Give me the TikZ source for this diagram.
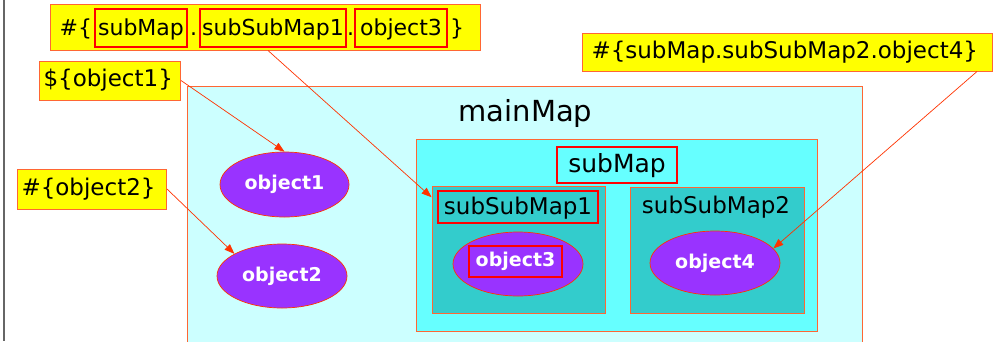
\documentclass[tikz,border=0pt]{standalone}
\usepackage{fontspec}
\setmainfont{DejaVu Sans}
\usetikzlibrary{arrows.meta,calc,shapes.geometric}
\definecolor{lblyellow}{HTML}{FFFF00}
\definecolor{lblborder}{HTML}{FF6633}
\definecolor{mainfill}{HTML}{CCFFFF}
\definecolor{subfill}{HTML}{66FFFF}
\definecolor{ssfill}{HTML}{33CCCC}
\definecolor{objfill}{HTML}{9933FF}
\definecolor{arrowc}{HTML}{FF3300}
\definecolor{hilite}{HTML}{FF0000}
\definecolor{framegray}{HTML}{666666}
\tikzset{
  lblfont/.style={font=\fontsize{23pt}{27pt}\selectfont},
  topfont/.style={font=\fontsize{22pt}{26pt}\selectfont},
  ylabel/.style={rectangle, fill=lblyellow, draw=lblborder, line width=1pt, lblfont, inner sep=0pt},
  plainpart/.style={inner sep=0pt, topfont, text height=18pt, text depth=4pt},
  redbox/.style={rectangle, draw=hilite, line width=2.6pt, inner sep=0pt, text height=18pt, text depth=4pt},
  container/.style={rectangle, draw=lblborder, line width=0.9pt, inner sep=0pt},
  objell/.style={ellipse, fill=objfill, draw=arrowc, line width=0.7pt, inner sep=0pt,
    text=white, font=\fontsize{19pt}{22pt}\selectfont\bfseries},
  arr/.style={draw=arrowc, line width=0.7pt, -{Triangle[length=10pt,width=7.5pt]}},
}
\begin{document}
\begin{tikzpicture}[x=1pt,y=-1pt]
\clip (0,0) rectangle (993,341);
\fill[white] (0,0) rectangle (993,341);
\draw[framegray, line width=1.8pt] (3.8,0) -- (3.8,341);

% containers
\node[container, fill=mainfill, minimum width=675pt, minimum height=280pt] (mainmap) at (524.5,226) {};
\node[anchor=base, font=\fontsize{29pt}{34pt}\selectfont] (mainlbl) at (525.5,121) {mainMap};
\node[container, fill=subfill, minimum width=401pt, minimum height=192pt] (submap) at (616.5,235) {};
\node[redbox, font=\fontsize{25pt}{30pt}\selectfont, minimum width=120pt, minimum height=36pt] (submaplbl) at (617,165) {subMap};
\node[container, fill=ssfill, minimum width=173pt, minimum height=127pt] (ssm1) at (518.5,249.5) {};
\node[container, fill=ssfill, minimum width=174pt, minimum height=126pt] (ssm2) at (717,250) {};
\node[redbox, lblfont, minimum width=160pt, minimum height=32pt] (ssm1lbl) at (518,207) {subSubMap1};
\node[anchor=base, lblfont] (ssm2lbl) at (716,213) {subSubMap2};

% objects
\node[objell, minimum width=129pt, minimum height=65pt] (object1) at (284.5,184.5) {object1};
\node[objell, minimum width=130pt, minimum height=64pt] (object2) at (282,276) {object2};
\node[objell, minimum width=130pt, minimum height=64pt] (object3) at (518,264) {};
\node[redbox, text=white, font=\fontsize{19pt}{22pt}\selectfont\bfseries, minimum width=93pt, minimum height=31pt, text height=14pt, text depth=4pt] (obj3lbl) at (515.5,261.5) {object3};
\node[objell, minimum width=130pt, minimum height=64pt] (object4) at (715,263) {object4};

% labels
\node[ylabel, minimum width=430pt, minimum height=46pt] (top) at (265,27) {};
\node[redbox, topfont, minimum width=92pt, minimum height=38pt] (r1) at (141,28) {subMap};
\node[redbox, topfont, minimum width=146pt, minimum height=38pt] (r2) at (273,28) {subSubMap1};
\node[redbox, topfont, minimum width=92pt, minimum height=38pt] (r3) at (401,28) {object3};
\node[plainpart, anchor=east] (hashl) at ([xshift=-1.5pt]r1.west) {\#\{};
\node[plainpart] (dot1) at ($(r1.east)!0.5!(r2.west)$) {.};
\node[plainpart] (dot2) at ($(r2.east)!0.5!(r3.west)$) {.};
\node[plainpart, anchor=west] (bracer) at ([xshift=1.5pt]r3.east) {\}};

\node[ylabel, anchor=west, inner xsep=4pt, text width=133pt, align=left, minimum height=39pt] (l1) at (39,80.5) {\$\{object1\}};
\node[ylabel, anchor=west, inner xsep=4pt, text width=141pt, align=left, minimum height=40pt] (l2) at (17,189) {\#\{object2\}};
\node[ylabel, anchor=west, inner xsep=9pt, text width=392pt, align=left, minimum height=38pt] (l4) at (582,52) {\#\{subMap.subSubMap2.object4\}};

% connectors
\coordinate (s3) at ($(top.south)+(3,0)$);
\coordinate (s4) at ($(l4.south east)+(-16,0)$);
\draw[arr] (l1.east) -- (object1.north);
\draw[arr] (l2.east) -- (object2.155);
\draw[arr] (s3) -- (ssm1.149);
\draw[arr] (s4) -- (object4.14);
\end{tikzpicture}
\end{document}
